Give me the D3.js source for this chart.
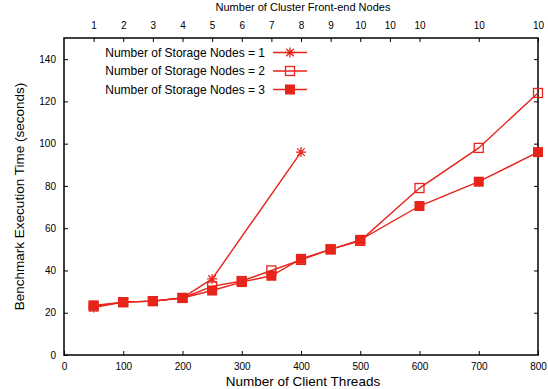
<!DOCTYPE html>
<html>
<head>
<meta charset="utf-8">
<script src="https://cdn.jsdelivr.net/npm/d3@7"></script>
<style>
  body { margin: 0; background: #fff; }
  text { font-family: "Liberation Sans", Arial, sans-serif; fill: #000; }
</style>
</head>
<body>
<div id="chart"></div>
<script>
// client threads on the x axis
var threads1 = [50, 100, 150, 200, 250, 400];
var storage1 = [22.5, 25, 25.5, 27, 36, 96];

var threads = [50, 100, 150, 200, 250, 300, 350, 400, 450, 500, 600, 700, 800];
var storage2 = [23, 25, 25.5, 27, 32.5, 35, 40, 45, 50, 54, 79, 98, 124];
var storage3 = [23.5, 25, 25.5, 27, 30.5, 34.5, 37.5, 45.5, 50, 54.5, 70.5, 82, 96];

// top axis: front-end node counts at these thread counts
var topTicks = [50, 100, 150, 200, 250, 300, 350, 400, 450, 500, 550, 600, 700, 800];
var topLabels = ["1", "2", "3", "4", "5", "6", "7", "8", "9", "10", "10", "10", "10", "10"];

var legendNames = ["Number of Storage Nodes = 1", "Number of Storage Nodes = 2", "Number of Storage Nodes = 3"];

var red = "#e8231a";
var W = 548, H = 389;
var margin = {top: 38, right: 10, bottom: 34, left: 64};
var width = 538 - margin.left;
var height = 355 - margin.top;

var svg = d3.select("#chart").append("svg")
  .attr("width", W)
  .attr("height", H)
  .append("g")
  .attr("transform", "translate(" + margin.left + "," + margin.top + ")");

var x = d3.scaleLinear().domain([0, 800]).range([0, width]);
var y = d3.scaleLinear().domain([0, 150]).range([height, 0]);

// axes, ticks pointing inward
var xAxis = svg.append("g")
  .attr("transform", "translate(0," + height + ")")
  .call(d3.axisBottom(x).tickValues(d3.range(0, 801, 100)).tickSizeInner(-4).tickSizeOuter(0).tickPadding(8));

var yAxis = svg.append("g")
  .call(d3.axisLeft(y).tickValues(d3.range(0, 141, 20)).tickSizeInner(-4).tickSizeOuter(0).tickPadding(8));

var yRight = svg.append("g")
  .attr("transform", "translate(" + width + ",0)")
  .call(d3.axisRight(y).tickValues(d3.range(20, 141, 20)).tickSizeInner(-4).tickSizeOuter(0).tickFormat(""));

var topAxis = svg.append("g")
  .call(d3.axisTop(x).tickValues(topTicks).tickSizeInner(-4).tickSizeOuter(0).tickPadding(9)
    .tickFormat(function(d, i) { return topLabels[i]; }));

[xAxis, yAxis, yRight, topAxis].forEach(function(a) {
  a.select(".domain").remove();
  a.selectAll("line").attr("stroke", "#000").attr("stroke-width", 1);
  a.selectAll("text").style("font-size", "10px").attr("fill", "#000");
});

// frame
svg.append("rect")
  .attr("width", width)
  .attr("height", height)
  .attr("fill", "none")
  .attr("stroke", "#000")
  .attr("stroke-width", 1.5);

// labels
svg.append("text")
  .attr("text-anchor", "middle")
  .attr("x", width / 2 + 2)
  .attr("y", height + 31)
  .style("font-size", "13.5px")
  .text("Number of Client Threads");

svg.append("text")
  .attr("text-anchor", "middle")
  .attr("x", width / 2 + 2)
  .attr("y", -27)
  .style("font-size", "11px")
  .text("Number of Cluster Front-end Nodes");

svg.append("text")
  .attr("transform", "rotate(-90)")
  .attr("x", -height / 2)
  .attr("y", -40)
  .attr("text-anchor", "middle")
  .style("font-size", "13.5px")
  .text("Benchmark Execution Time (seconds)");

var line = d3.line()
  .x(function(d) { return x(d[0]); })
  .y(function(d) { return y(d[1]); });

function pairs(xs, ys) { return xs.map(function(v, i) { return [v, ys[i]]; }); }

var series = [pairs(threads1, storage1), pairs(threads, storage2), pairs(threads, storage3)];

function marker(g, kind, cx, cy) {
  if (kind == 0) {
    var r = 5;
    var p = d3.path();
    p.moveTo(cx - r, cy); p.lineTo(cx + r, cy);
    p.moveTo(cx, cy - r); p.lineTo(cx, cy + r);
    p.moveTo(cx - r * 0.75, cy - r * 0.75); p.lineTo(cx + r * 0.75, cy + r * 0.75);
    p.moveTo(cx - r * 0.75, cy + r * 0.75); p.lineTo(cx + r * 0.75, cy - r * 0.75);
    g.append("path").attr("d", p.toString()).attr("stroke", red).attr("stroke-width", 1.3).attr("fill", "none");
  } else if (kind == 1) {
    g.append("rect").attr("x", cx - 4.5).attr("y", cy - 4.5).attr("width", 9).attr("height", 9)
      .attr("fill", "none").attr("stroke", red).attr("stroke-width", 1.3);
  } else {
    g.append("rect").attr("x", cx - 5).attr("y", cy - 5).attr("width", 10).attr("height", 10)
      .attr("fill", red);
  }
}

series.forEach(function(s, k) {
  svg.append("path")
    .datum(s)
    .attr("d", line)
    .attr("fill", "none")
    .attr("stroke", red)
    .attr("stroke-width", 1.4);
  var g = svg.append("g");
  s.forEach(function(d) { marker(g, k, x(d[0]), y(d[1])); });
});

// legend
legendNames.forEach(function(name, i) {
  var ly = 52.5 + i * 18.5 - margin.top;
  var lg = svg.append("g");
  lg.append("text")
    .attr("x", 265 - margin.left)
    .attr("y", ly)
    .attr("dy", "0.35em")
    .attr("text-anchor", "end")
    .style("font-size", "12px")
    .text(name);
  lg.append("line")
    .attr("x1", 273 - margin.left).attr("x2", 307 - margin.left)
    .attr("y1", ly).attr("y2", ly)
    .attr("stroke", red).attr("stroke-width", 1.4);
  marker(lg, i, 290 - margin.left, ly);
});
</script>
</body>
</html>
